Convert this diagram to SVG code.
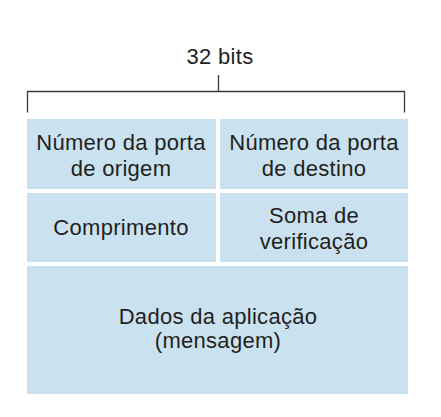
<svg xmlns="http://www.w3.org/2000/svg" width="441" height="417" viewBox="0 0 441 417">
<style>
.cell{fill:#cae2f0}
.t{font-family:"Liberation Sans",Arial,sans-serif;font-size:22px;letter-spacing:0.3px;fill:#231f20;text-anchor:middle}
.br{fill:none;stroke:#3a3a3a;stroke-width:1.3}
</style>
<rect width="441" height="417" fill="#ffffff"/>
<g id="connectors">
<path class="br" d="M27.5 112.5V91.5H404.5V112.5M218.5 75V91.5"/>
</g>
<g id="label-32bits"><text class="t" x="220" y="64">32 bits</text></g>
<g id="src-port">
<rect class="cell" x="27" y="119" width="189" height="70"/>
<text class="t" x="121" y="149.5">Número da porta</text>
<text class="t" x="121" y="175.5">de origem</text>
</g>
<g id="dst-port">
<rect class="cell" x="220" y="119" width="188" height="70"/>
<text class="t" x="314" y="149.5">Número da porta</text>
<text class="t" x="314" y="175.5">de destino</text>
</g>
<g id="length">
<rect class="cell" x="27" y="193" width="189" height="69"/>
<text class="t" x="121" y="235">Comprimento</text>
</g>
<g id="checksum">
<rect class="cell" x="220" y="193" width="188" height="69"/>
<text class="t" x="314" y="223">Soma de</text>
<text class="t" x="314" y="248.5">verificação</text>
</g>
<g id="data">
<rect class="cell" x="27" y="266" width="381" height="128"/>
<text class="t" x="218" y="323.5">Dados da aplicação</text>
<text class="t" x="218" y="348">(mensagem)</text>
</g>
</svg>
